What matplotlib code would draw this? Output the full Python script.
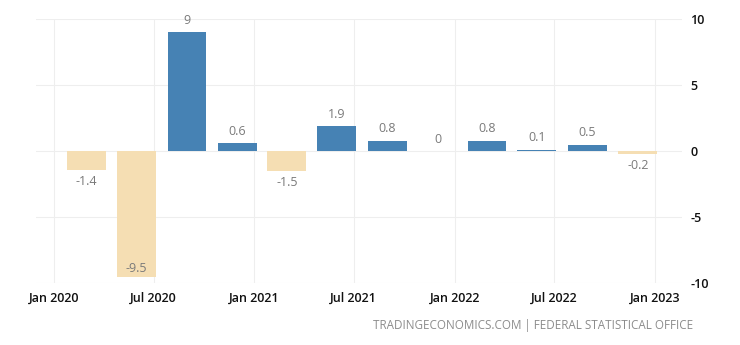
#!/usr/bin/env python3
"""Germany GDP growth rate, quarter on quarter (%), 2020-2022."""
import matplotlib
matplotlib.use("Agg")
import matplotlib.pyplot as plt
import matplotlib.dates as mdates
import pandas as pd

QUARTER_END = ["2020-03-31", "2020-06-30", "2020-09-30", "2020-12-31",
               "2021-03-31", "2021-06-30", "2021-09-30", "2021-12-31",
               "2022-03-31", "2022-06-30", "2022-09-30", "2022-12-31"]
GROWTH = [-1.4, -9.5, 9.0, 0.6, -1.5, 1.9, 0.8, 0.0, 0.8, 0.1, 0.5, -0.2]
LABELS = ["-1.4", "-9.5", "9", "0.6", "-1.5", "1.9", "0.8", "0", "0.8", "0.1", "0.5", "-0.2"]
Y_TICKS = [-10, -5, 0, 5, 10]
X_TICKS = ["2020-01-01", "2020-07-01", "2021-01-01", "2021-07-01",
           "2022-01-01", "2022-07-01", "2023-01-01"]

BLUE = "#4682b4"
WHEAT = "#f5deb3"
plt.rcParams["font.family"] = ["Open Sans", "DejaVu Sans"]

fig = plt.figure(figsize=(7.4, 3.45), dpi=100)
ax = fig.add_axes([0.0482, 0.1788, 0.9212 - 0.0482, 0.9449 - 0.1788])

dates = pd.to_datetime(QUARTER_END)
# bars sit roughly a month before the quarter end date
centers = mdates.date2num(dates - pd.Timedelta(days=30))
colors = [BLUE if v >= 0 else WHEAT for v in GROWTH]
ax.bar(centers, GROWTH, width=71, color=colors, zorder=3)

ymin, ymax = -10, 10
for x, v, lab in zip(centers, GROWTH, LABELS):
    if v >= 0:
        dy = 12
    elif v - 1.5 < ymin:
        dy = 8   # no room below the axis, keep the label inside the bar
    else:
        dy = -12
    ax.annotate(lab, (x, v), xytext=(0, dy), textcoords="offset pixels",
                ha="center", va="center", fontsize=9, color="#7a7a7a")

ax.set_ylim(ymin, ymax)
ax.set_xlim(mdates.date2num(pd.Timestamp("2019-11-29")),
            mdates.date2num(pd.Timestamp("2023-02-19")))
ax.set_yticks(Y_TICKS)
ax.set_yticklabels([str(t) for t in Y_TICKS])
ax.set_xticks(mdates.date2num(pd.to_datetime(X_TICKS)))
ax.set_xticklabels([pd.Timestamp(t).strftime("%b %Y") for t in X_TICKS])
ax.yaxis.tick_right()
ax.tick_params(axis="both", length=0, labelsize=9, colors="#111111")
ax.tick_params(axis="y", pad=6)
ax.tick_params(axis="x", pad=6)
for lab in ax.get_xticklabels() + ax.get_yticklabels():
    lab.set_fontweight("semibold")
ax.grid(True, color="#eeeeee", lw=0.8, zorder=0)
for s in ax.spines.values():
    s.set_visible(False)

fig.text(693 / 740, 1 - 326 / 345, "TRADINGECONOMICS.COM | FEDERAL STATISTICAL OFFICE",
         ha="right", va="center", fontsize=8.4, color="#8c8c8c")

fig.savefig("out.png", dpi=100)
